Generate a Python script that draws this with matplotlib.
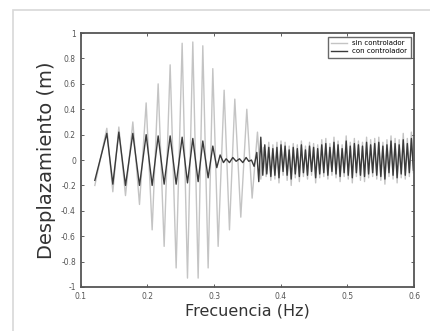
import numpy as np
import matplotlib
matplotlib.use("Agg")
import matplotlib.pyplot as plt
from matplotlib.patches import Rectangle

# extremos (frecuencia en Hz, desplazamiento en m)
frec_sweep = [0.121, 0.139, 0.148, 0.157, 0.167, 0.178, 0.188, 0.198, 0.207, 0.216,
              0.225, 0.234, 0.243, 0.252, 0.260, 0.268, 0.276, 0.283, 0.291, 0.298]
con_sweep = [-0.16, 0.21, -0.19, 0.22, -0.20, 0.21, -0.20, 0.20, -0.20, 0.19,
             -0.19, 0.19, -0.19, 0.18, -0.18, 0.17, -0.17, 0.15, -0.14, 0.11]
sin_sweep = [-0.20, 0.25, -0.25, 0.26, -0.28, 0.30, -0.35, 0.45, -0.55, 0.60,
             -0.68, 0.75, -0.85, 0.92, -0.93, 0.93, -0.93, 0.90, -0.85, 0.72]

# tramo de transicion
frec_con_mid = [0.304, 0.309, 0.314, 0.318, 0.323, 0.328, 0.333, 0.338, 0.343, 0.348,
                0.352, 0.356, 0.360, 0.364, 0.367, 0.370, 0.373, 0.376, 0.379]
con_mid = [-0.06, 0.04, -0.02, 0.01, -0.02, 0.02, -0.01, 0.01, -0.02, 0.02,
           -0.01, 0.00, -0.05, 0.06, -0.17, 0.18, -0.12, 0.12, -0.11]
frec_sin_mid = [0.306, 0.315, 0.323, 0.331, 0.340, 0.349, 0.357, 0.365, 0.370, 0.374, 0.378]
sin_mid = [-0.68, 0.55, -0.55, 0.48, -0.45, 0.40, -0.30, 0.22, -0.15, 0.10, -0.13]

# tramo final (oscilacion densa)
con_end = [0.10, -0.13, 0.09, -0.12, 0.10, -0.14, 0.12, -0.09, 0.11, -0.12,
           0.08, -0.15, 0.10, -0.11, 0.09, -0.13, 0.12, -0.10, 0.08, -0.12,
           0.11, -0.09, 0.10, -0.14, 0.09, -0.11, 0.12, -0.10, 0.13, -0.12,
           0.10, -0.09, 0.14, -0.11, 0.12, -0.13, 0.09, -0.10, 0.15, -0.12,
           0.11, -0.14, 0.13, -0.10, 0.12, -0.12, 0.11, -0.13, 0.14, -0.11,
           0.12, -0.10, 0.13, -0.12, 0.14, -0.13, 0.11, -0.15, 0.12, -0.10,
           0.15, -0.12, 0.13, -0.14, 0.12, -0.11, 0.16, -0.12, 0.13, -0.10,
           0.17, -0.08]
sin_end = [0.14, -0.16, 0.12, -0.15, 0.14, -0.18, 0.15, -0.12, 0.14, -0.16,
           0.11, -0.20, 0.13, -0.14, 0.12, -0.17, 0.15, -0.13, 0.11, -0.15,
           0.14, -0.12, 0.13, -0.18, 0.12, -0.14, 0.16, -0.13, 0.17, -0.15,
           0.13, -0.12, 0.18, -0.14, 0.15, -0.17, 0.12, -0.13, 0.19, -0.15,
           0.14, -0.18, 0.17, -0.13, 0.15, -0.16, 0.14, -0.17, 0.18, -0.14,
           0.16, -0.13, 0.17, -0.15, 0.18, -0.16, 0.14, -0.19, 0.16, -0.13,
           0.19, -0.15, 0.17, -0.18, 0.16, -0.14, 0.21, -0.15, 0.17, -0.13,
           0.22, -0.10]
frec_end = np.linspace(0.382, 0.599, len(con_end))

x_con = np.concatenate([frec_sweep, frec_con_mid, frec_end])
y_con = np.concatenate([con_sweep, con_mid, con_end])
x_sin = np.concatenate([frec_sweep, frec_sin_mid, frec_end])
y_sin = np.concatenate([sin_sweep, sin_mid, sin_end])

fig = plt.figure(figsize=(4.3, 3.31), dpi=100)
fig.patches.append(Rectangle((13 / 430, -0.1), 1.2, 1 - 10 / 331 + 0.1,
                             transform=fig.transFigure, fill=False,
                             edgecolor="#d8d8d8", linewidth=1.2))
ax = fig.add_axes([0.188, 0.133, 0.775, 0.767])

ax.plot(x_sin, y_sin, color="#c4c4c4", lw=1.0, label="sin controlador")
ax.plot(x_con, y_con, color="#3a3a3a", lw=1.0, label="con controlador")

ax.set_xlim(0.1, 0.6)
ax.set_ylim(-1, 1)
ax.set_xticks([0.1, 0.2, 0.3, 0.4, 0.5, 0.6])
ax.set_xticklabels(["0.1", "0.2", "0.3", "0.4", "0.5", "0.6"])
ax.set_yticks([-1, -0.8, -0.6, -0.4, -0.2, 0, 0.2, 0.4, 0.6, 0.8, 1])
ax.set_yticklabels(["-1", "-0.8", "-0.6", "-0.4", "-0.2", "0", "0.2", "0.4", "0.6", "0.8", "1"])
ax.tick_params(direction="in", top=True, right=True, length=2.5, width=0.6,
               labelsize=5.5, labelcolor="#555555", colors="#444444")
for s in ax.spines.values():
    s.set_color("#555555")
    s.set_linewidth(1.3)

ax.set_xlabel("Frecuencia (Hz)", fontsize=11.5, color="#333333", labelpad=2)
ax.set_ylabel("Desplazamiento (m)", fontsize=14, color="#333333", labelpad=4)

leg = ax.legend(loc="upper right", fontsize=5, frameon=True, fancybox=False,
                handlelength=2.2, borderpad=0.5, labelspacing=0.3)
leg.get_frame().set_edgecolor("#444444")
leg.get_frame().set_linewidth(1.0)

fig.savefig("out.png", dpi=100)
